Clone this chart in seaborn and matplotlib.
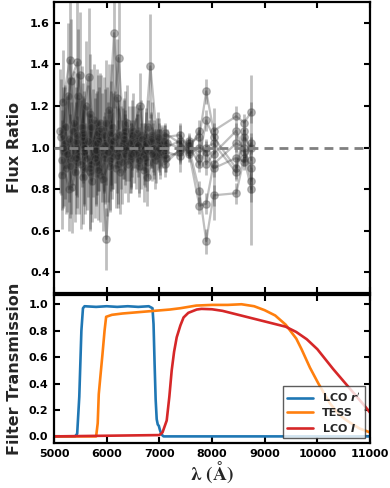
import numpy as np
import pandas as pd
import matplotlib
matplotlib.use("Agg")
import matplotlib.pyplot as plt
import seaborn as sns

# ---------------- Top panel data: flux ratio per wavelength bin ----------------
sparse_wl = [7100, 7390, 7560, 7760, 7890, 8030, 8460, 8610, 8745]

s1_wl = [5170, 5300, 5430, 5560, 5690, 5820, 5950, 6080, 6210, 6340, 6470, 6600, 6730, 6860, 6990] + sparse_wl
s1_val = [1.22, 1.42, 0.93, 1.05, 0.88, 1.12, 0.97, 1.03, 0.92, 1.08, 0.95, 1.04, 0.98, 1.06, 1.02,
          1.05, 1.06, 1.00, 0.79, 0.55, 0.77, 0.78, 0.95, 0.80]
s1_err = [0.25, 0.30, 0.22, 0.20, 0.28, 0.26, 0.18, 0.24, 0.21, 0.19, 0.17, 0.15, 0.14, 0.16, 0.12,
          0.06, 0.05, 0.04, 0.05, 0.06, 0.05, 0.05, 0.04, 0.06]

s2_wl = [5200, 5330, 5460, 5590, 5720, 5850, 5980, 6110, 6240, 6370, 6500, 6630, 6760, 6890, 7020] + sparse_wl
s2_val = [1.10, 0.95, 1.25, 0.90, 0.84, 1.04, 1.12, 0.96, 1.06, 0.99, 1.08, 1.20, 0.93, 1.00, 0.97,
          0.95, 0.98, 1.02, 1.05, 1.27, 1.08, 1.15, 1.12, 1.17]
s2_err = [0.20, 0.27, 0.32, 0.22, 0.20, 0.25, 0.30, 0.21, 0.17, 0.15, 0.18, 0.16, 0.14, 0.13, 0.12,
          0.07, 0.05, 0.04, 0.05, 0.06, 0.04, 0.05, 0.04, 0.05]

s3_wl = [5140, 5270, 5400, 5530, 5660, 5790, 5920, 6050, 6180, 6310, 6440, 6570, 6700, 6830, 6960] + sparse_wl
s3_val = [1.05, 1.25, 0.88, 1.10, 1.34, 0.93, 1.00, 1.18, 0.90, 1.02, 0.94, 1.07, 0.97, 1.39, 1.03,
          1.02, 1.00, 0.98, 0.72, 0.73, 0.92, 1.02, 1.00, 0.84]
s3_err = [0.28, 0.35, 0.24, 0.29, 0.33, 0.20, 0.26, 0.22, 0.19, 0.17, 0.16, 0.14, 0.15, 0.25, 0.11,
          0.05, 0.12, 0.03, 0.04, 0.05, 0.27, 0.04, 0.05, 0.06]

s4_wl = [5230, 5360, 5490, 5620, 5750, 5880, 6010, 6140, 6270, 6400, 6530, 6660, 6790, 6920, 7050] + sparse_wl
s4_val = [0.90, 1.08, 1.35, 0.95, 1.13, 0.87, 0.98, 1.55, 1.00, 0.92, 1.05, 0.96, 1.10, 0.94, 1.00,
          0.92, 0.99, 1.03, 0.95, 1.13, 1.05, 0.90, 1.08, 0.94]
s4_err = [0.22, 0.26, 0.30, 0.25, 0.27, 0.23, 0.31, 0.36, 0.20, 0.18, 0.15, 0.16, 0.13, 0.14, 0.10,
          0.06, 0.05, 0.04, 0.04, 0.05, 0.04, 0.05, 0.05, 0.41]

s5_wl = [5185, 5315, 5445, 5575, 5705, 5835, 5965, 6095, 6225, 6355, 6485, 6615, 6745, 6875, 7005] + sparse_wl
s5_val = [0.98, 1.32, 1.41, 1.00, 0.92, 1.07, 0.95, 1.10, 1.43, 0.97, 1.03, 0.91, 1.05, 1.00, 0.98,
          1.07, 1.02, 0.99, 1.08, 0.92, 0.97, 1.08, 0.98, 0.90]
s5_err = [0.26, 0.30, 0.33, 0.27, 0.24, 0.28, 0.22, 0.30, 0.34, 0.19, 0.17, 0.15, 0.14, 0.12, 0.11,
          0.05, 0.04, 0.04, 0.05, 0.05, 0.04, 0.04, 0.05, 0.05]

s6_wl = [5155, 5285, 5415, 5545, 5675, 5805, 5935, 6065, 6195, 6325, 6455, 6585, 6715, 6845, 6975] + sparse_wl
s6_val = [0.94, 0.80, 1.03, 0.86, 1.16, 0.99, 0.85, 0.94, 1.24, 1.06, 0.96, 1.02, 0.89, 1.04, 0.99,
          0.98, 0.96, 1.01, 0.92, 1.00, 1.02, 0.88, 1.05, 1.00]
s6_err = [0.24, 0.20, 0.26, 0.23, 0.29, 0.27, 0.25, 0.24, 0.28, 0.18, 0.16, 0.14, 0.15, 0.13, 0.10,
          0.05, 0.04, 0.03, 0.04, 0.04, 0.05, 0.04, 0.04, 0.05]

s7_wl = [5215, 5345, 5475, 5605, 5735, 5865, 5995, 6125, 6255, 6385, 6515, 6645, 6775, 6905, 7035] + sparse_wl
s7_val = [1.02, 0.81, 0.96, 1.20, 1.02, 1.12, 0.56, 1.03, 0.88, 1.12, 0.98, 1.06, 0.86, 0.97, 1.01,
          1.00, 1.03, 0.97, 1.00, 0.98, 0.90, 0.95, 0.93, 1.02]
s7_err = [0.27, 0.22, 0.28, 0.31, 0.26, 0.24, 0.15, 0.23, 0.20, 0.18, 0.15, 0.17, 0.14, 0.12, 0.10,
          0.04, 0.05, 0.04, 0.04, 0.05, 0.04, 0.05, 0.04, 0.05]

s8_wl = [5120, 5250, 5380, 5510, 5640, 5770, 5900, 6030, 6160, 6290, 6420, 6550, 6680, 6810, 6940, 7080]
s8_val = [1.08, 0.97, 1.12, 0.92, 1.03, 0.95, 1.09, 0.98, 1.05, 0.93, 1.02, 0.97, 1.04, 0.99, 0.96, 1.03]
s8_err = [0.30, 0.28, 0.25, 0.31, 0.27, 0.29, 0.26, 0.24, 0.22, 0.20, 0.18, 0.17, 0.15, 0.14, 0.13, 0.08]

s9_wl = [5160, 5290, 5420, 5550, 5680, 5810, 5940, 6070, 6200, 6330, 6460, 6590, 6720, 6850, 6980, 7120]
s9_val = [0.87, 1.04, 0.95, 1.07, 0.90, 1.02, 1.06, 0.91, 0.99, 1.04, 0.97, 1.01, 0.95, 1.03, 1.05, 0.95]
s9_err = [0.26, 0.30, 0.27, 0.24, 0.29, 0.25, 0.28, 0.22, 0.21, 0.19, 0.16, 0.15, 0.14, 0.13, 0.12, 0.07]

s10_wl = [5180, 5310, 5440, 5570, 5700, 5830, 5960, 6090, 6220, 6350, 6480, 6610, 6740, 6870, 7000, 7150]
s10_val = [1.00, 0.91, 1.06, 0.98, 1.10, 0.89, 1.01, 1.07, 0.96, 1.00, 1.06, 0.94, 1.02, 0.97, 1.00, 1.02]
s10_err = [0.29, 0.25, 0.30, 0.26, 0.28, 0.24, 0.27, 0.25, 0.23, 0.18, 0.17, 0.16, 0.15, 0.13, 0.12, 0.07]

# ---------------- Bottom panel data: filter transmission curves ----------------
rp_wl = [5000, 5400, 5440, 5480, 5520, 5550, 5580, 5800, 6000, 6200, 6400, 6600, 6800,
         6870, 6890, 6910, 6930, 6950, 6970, 6990, 7010, 7040, 7080, 11200]
rp_tr = [0.0, 0.0, 0.02, 0.30, 0.80, 0.97, 0.985, 0.98, 0.985, 0.98, 0.985, 0.98, 0.985,
         0.97, 0.85, 0.55, 0.28, 0.13, 0.09, 0.08, 0.05, 0.015, 0.0, 0.0]

tess_wl = [5000, 5800, 5830, 5850, 5880, 5920, 5960, 5990, 6100, 6300, 6600, 6900, 7200,
           7400, 7700, 8000, 8300, 8560, 8800, 9000, 9200, 9400, 9600, 9700, 9860,
           10020, 10240, 10400, 10560, 10800, 11000, 11200]
tess_tr = [0.0, 0.0, 0.10, 0.32, 0.45, 0.62, 0.80, 0.905, 0.92, 0.93, 0.94, 0.95, 0.96,
           0.97, 0.99, 0.995, 0.995, 1.0, 0.985, 0.955, 0.915, 0.845, 0.74, 0.66, 0.52,
           0.40, 0.25, 0.17, 0.12, 0.06, 0.03, 0.02]

i_wl = [5000, 7000, 7060, 7140, 7190, 7235, 7280, 7330, 7400, 7460, 7550, 7710, 7800,
        8000, 8200, 8400, 8600, 8800, 9000, 9200, 9400, 9600, 9800, 10000, 10120,
        10300, 10450, 10600, 10750, 10900, 11000, 11200]
i_tr = [0.0, 0.01, 0.03, 0.12, 0.30, 0.50, 0.64, 0.75, 0.84, 0.90, 0.935, 0.96, 0.965,
        0.962, 0.95, 0.93, 0.91, 0.89, 0.87, 0.85, 0.83, 0.79, 0.735, 0.66, 0.60,
        0.51, 0.44, 0.37, 0.30, 0.23, 0.18, 0.10]

filter_labels = [r"LCO $\boldsymbol{r'}$", "TESS", r"LCO $\boldsymbol{I}$"]
filter_colors = ["#1f77b4", "#ff7f0e", "#d62728"]

# ---------------- Build tables ----------------
series = [(s1_wl, s1_val, s1_err), (s2_wl, s2_val, s2_err), (s3_wl, s3_val, s3_err),
          (s4_wl, s4_val, s4_err), (s5_wl, s5_val, s5_err), (s6_wl, s6_val, s6_err),
          (s7_wl, s7_val, s7_err), (s8_wl, s8_val, s8_err), (s9_wl, s9_val, s9_err),
          (s10_wl, s10_val, s10_err)]
rows = []
for k, (w, v, e) in enumerate(series):
    for wi, vi, ei in zip(w, v, e):
        rows.append({"series": k, "wavelength": wi, "ratio": vi, "err": ei})
df_top = pd.DataFrame(rows)

frames = []
for lab, w, t in zip(filter_labels, [rp_wl, tess_wl, i_wl], [rp_tr, tess_tr, i_tr]):
    frames.append(pd.DataFrame({"wavelength": w, "trans": t, "filter": lab}))
df_filt = pd.concat(frames, ignore_index=True)

# ---------------- Style ----------------
sns.set_theme(style="ticks")
plt.rcParams.update({
    "font.family": ["DejaVu Sans"],
    "font.weight": "bold",
    "axes.labelweight": "bold",
    "axes.linewidth": 1.6,
    "xtick.direction": "in",
    "ytick.direction": "in",
    "xtick.major.width": 1.5,
    "ytick.major.width": 1.5,
    "xtick.major.size": 4.5,
    "ytick.major.size": 4.5,
    "xtick.labelsize": 8,
    "ytick.labelsize": 8,
    "xtick.color": "black",
    "ytick.color": "black",
    "axes.edgecolor": "black",
})

fig = plt.figure(figsize=(3.9, 4.88), dpi=100)
W, H = 390.0, 488.0
ax1 = fig.add_axes([54 / W, 1 - 293 / H, 316 / W, 291 / H])
ax2 = fig.add_axes([54 / W, 1 - 443 / H, 316 / W, 148 / H])

# ---- top panel ----
ax1.errorbar(df_top["wavelength"], df_top["ratio"], yerr=df_top["err"], fmt="none",
             ecolor="k", alpha=0.28, elinewidth=2.0, capsize=0, zorder=2)
sns.lineplot(data=df_top, x="wavelength", y="ratio", units="series", estimator=None,
             color="k", alpha=0.28, lw=1.6, legend=False, ax=ax1, zorder=3)
sns.scatterplot(data=df_top, x="wavelength", y="ratio", color="0.15", alpha=0.35,
                edgecolor="0.35", linewidth=0.9, s=30, legend=False, ax=ax1, zorder=4)
ax1.axhline(1.0, color="0.5", ls="--", lw=2.0, dashes=(3.2, 2.2), zorder=10)

ax1.set_xlim(5000, 11000)
ax1.set_ylim(0.3, 1.7)
ax1.set_yticks([0.4, 0.6, 0.8, 1.0, 1.2, 1.4, 1.6])
ax1.set_xticks([5000, 6000, 7000, 8000, 9000, 10000, 11000])
ax1.tick_params(axis="both", which="both", top=True, right=True, labelbottom=False, pad=3)
ax1.set_xlabel("")
ax1.set_ylabel("Flux Ratio", fontsize=11.5, fontweight="bold")
ax1.yaxis.set_label_coords(-0.10, 0.5)

# ---- bottom panel ----
sns.lineplot(data=df_filt, x="wavelength", y="trans", hue="filter",
             palette=dict(zip(filter_labels, filter_colors)), hue_order=filter_labels,
             estimator=None, sort=False, lw=1.9, ax=ax2)
ax2.set_xlim(5000, 11000)
ax2.set_ylim(-0.05, 1.07)
ax2.set_yticks([0.0, 0.2, 0.4, 0.6, 0.8, 1.0])
ax2.set_xticks([5000, 6000, 7000, 8000, 9000, 10000, 11000])
ax2.tick_params(axis="both", which="both", top=True, right=True, pad=4)
for lab in ax2.get_xticklabels() + ax2.get_yticklabels():
    lab.set_fontweight("bold")
for lab in ax1.get_yticklabels():
    lab.set_fontweight("bold")
ax2.set_ylabel("Filter Transmission", fontsize=11.5, fontweight="bold")
ax2.yaxis.set_label_coords(-0.10, 0.5)
ax2.set_xlabel(r"$\boldsymbol{\lambda\ (\AA)}$", fontsize=14, math_fontfamily="stix",
               labelpad=1)

leg = ax2.legend(loc="lower right", fontsize=8, frameon=True, fancybox=False,
                 handlelength=2.3, borderaxespad=0.45, labelspacing=0.35,
                 handletextpad=0.8, borderpad=0.4)
leg.get_frame().set_edgecolor("0.2")
leg.get_frame().set_linewidth(1.0)
for t in leg.get_texts():
    t.set_fontweight("bold")

for ax in (ax1, ax2):
    for sp in ax.spines.values():
        sp.set_linewidth(1.6)
        sp.set_color("black")

fig.savefig("out.png", dpi=100)
